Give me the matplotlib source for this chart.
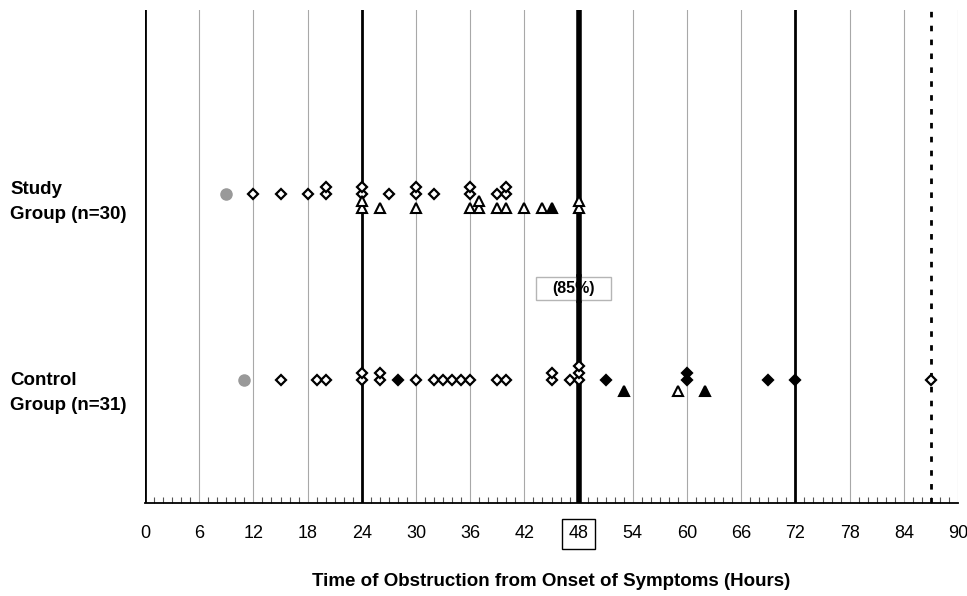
import matplotlib
matplotlib.use('Agg')
import matplotlib.pyplot as plt
from matplotlib.patches import Rectangle
from collections import Counter

plt.rcParams['font.family'] = ['Liberation Sans', 'DejaVu Sans']

# ---------------- data ----------------
group_labels = ['Study\nGroup (n=30)', 'Control\nGroup (n=31)']
study_circle = [9]
study_open_diamond = [12, 15, 18, 20, 20, 24, 24, 27, 30, 30, 32, 36, 36, 39, 40, 40]
study_open_triangle = [24, 24, 26, 30, 36, 37, 37, 39, 40, 42, 44, 48, 48]
study_filled_triangle = [45]

control_circle = [11]
control_open_diamond = [15, 19, 20, 24, 24, 26, 26, 30, 32, 33, 34, 35, 36, 39, 40,
                        45, 45, 47, 48, 48, 48, 87]
control_filled_diamond = [28, 51, 60, 60, 69, 72]
control_open_triangle = [59]
control_filled_triangle = [53, 62]

xtick_values = list(range(0, 91, 6))
xtick_labels = [str(v) for v in xtick_values]
boxed_tick = '48'
annotation_text = '(85%)'
annotation_hour = 48
xlabel = 'Time of Obstruction from Onset of Symptoms (Hours)'

# ---------------- layout ----------------
W, H = 967, 596
fig = plt.figure(figsize=(W / 100, H / 100), dpi=100)
ax = fig.add_axes([145 / W, (H - 503) / H, (958 - 145) / W, (503 - 10) / H])
ax.set_xlim(0, 90)
ax.set_ylim(0, 493)

rows = {'study': 309, 'control': 123}
tri_off = {'study': 14, 'control': 11}
step = 7

# grid lines
for v in xtick_values:
    if v in (0, 24, 48, 72):
        continue
    ax.axvline(v, color='#a8a8a8', lw=0.8, zorder=1)
ax.axvline(0, color='black', lw=2.0, zorder=2)
ax.axvline(24, color='black', lw=2.0, zorder=2)
ax.axvline(72, color='black', lw=2.0, zorder=2)
ax.axvline(48, color='black', lw=4.0, zorder=2)
ax.axvline(87, color='black', lw=2.0, ls=(0, (2, 3)), zorder=2)


def draw_group(key, circle, open_d, filled_d, open_t, filled_t):
    row = rows[key]
    ax.plot(circle, [row] * len(circle), 'o', ms=8, color='#999999', mec='#999999', zorder=5)
    all_d = [(v, 'open') for v in open_d] + [(v, 'filled') for v in filled_d]
    all_d.sort(key=lambda t: t[0])
    cnt = Counter()
    for v, kind in all_d:
        y = row + step * cnt[v]
        cnt[v] += 1
        ax.plot([v], [y], 'D', ms=5.6, mew=1.6, mec='black',
                mfc='white' if kind == 'open' else 'black', zorder=6)
    all_t = [(v, 'open') for v in open_t] + [(v, 'filled') for v in filled_t]
    all_t.sort(key=lambda t: t[0])
    cnt = Counter()
    for v, kind in all_t:
        y = row - tri_off[key] + step * cnt[v]
        cnt[v] += 1
        ax.plot([v], [y], '^', ms=7.4, mew=1.5, mec='black',
                mfc='white' if kind == 'open' else 'black', zorder=6)


draw_group('study', study_circle, study_open_diamond, [], study_open_triangle,
           study_filled_triangle)
draw_group('control', control_circle, control_open_diamond, control_filled_diamond,
           control_open_triangle, control_filled_triangle)

# group labels
fig.text(10 / W, 1 - 202 / H, group_labels[0], ha='left', va='center',
         fontsize=13.5, fontweight='bold', linespacing=1.55)
fig.text(10 / W, 1 - 393 / H, group_labels[1], ha='left', va='center',
         fontsize=13.5, fontweight='bold', linespacing=1.55)

# annotation box
ax.add_patch(Rectangle((annotation_hour - 4.7, 203), 8.3, 23, fc='white',
                       ec='#b5b5b5', lw=1.0, zorder=3))
ax.axvline(48, ymin=203 / 493, ymax=226 / 493, color='black', lw=4.0, zorder=4)
ax.text(annotation_hour - 0.6, 214.5, annotation_text, ha='center', va='center',
        fontsize=11.5, fontweight='bold', zorder=5)

# axes styling
for s in ['top', 'right', 'left']:
    ax.spines[s].set_visible(False)
ax.spines['bottom'].set_linewidth(1.3)
ax.set_yticks([])
ax.set_xticks(xtick_values)
ax.set_xticklabels(xtick_labels, fontsize=13)
ax.set_xticks(range(0, 91), minor=True)
ax.tick_params(axis='x', which='major', length=0, pad=16)
ax.tick_params(axis='x', which='minor', direction='in', length=4, width=0.8, color='#555555')
for lbl in ax.get_xticklabels():
    if lbl.get_text() == boxed_tick:
        lbl.set_bbox(dict(boxstyle='square,pad=0.35', fc='white', ec='black', lw=1.0))

fig.text(551 / W, 1 - 581 / H, xlabel, ha='center', va='center', fontsize=13.5,
         fontweight='bold')

fig.savefig('out.png', dpi=100, facecolor='white')
